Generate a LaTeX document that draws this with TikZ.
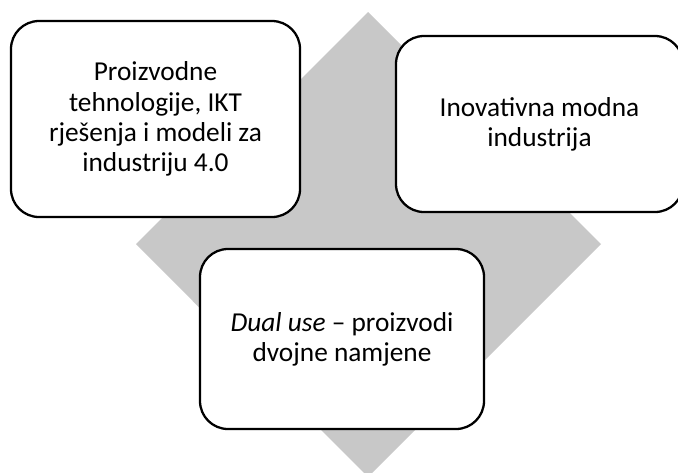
\documentclass[tikz,border=0pt]{standalone}
\usepackage{fontspec}
\setmainfont{Carlito}
\begin{document}
\begin{tikzpicture}[x=0.75pt,y=-0.75pt,
  box/.style={draw=black, fill=white, line width=1.7pt, rounded corners=21pt,
    align=center, inner sep=0pt, font=\fontsize{20.5}{22.6}\selectfont}]
\useasboundingbox (0,0) rectangle (678,472);
\clip (0,0) rectangle (678,472);
\fill[fill={rgb,255:red,200;green,200;blue,200}]
  (368,12) coordinate (dtop) -- (601,244) coordinate (dright)
  -- (368,477) coordinate (dbottom) -- (136,244) coordinate (dleft) -- cycle;
\node[box, minimum width=289*0.75pt, minimum height=196*0.75pt] (left) at (155.5,119)
  {Proizvodne\\tehnologije, IKT\\rješenja i modeli za\\industriju 4.0};
\node[box, minimum width=287*0.75pt, minimum height=176*0.75pt] (right) at (539.5,124)
  {Inovativna modna\\industrija};
\node[box, minimum width=284*0.75pt, minimum height=180*0.75pt] (bottom) at (342,339)
  {\textit{Dual use} – proizvodi\\dvojne namjene};
\end{tikzpicture}
\end{document}
